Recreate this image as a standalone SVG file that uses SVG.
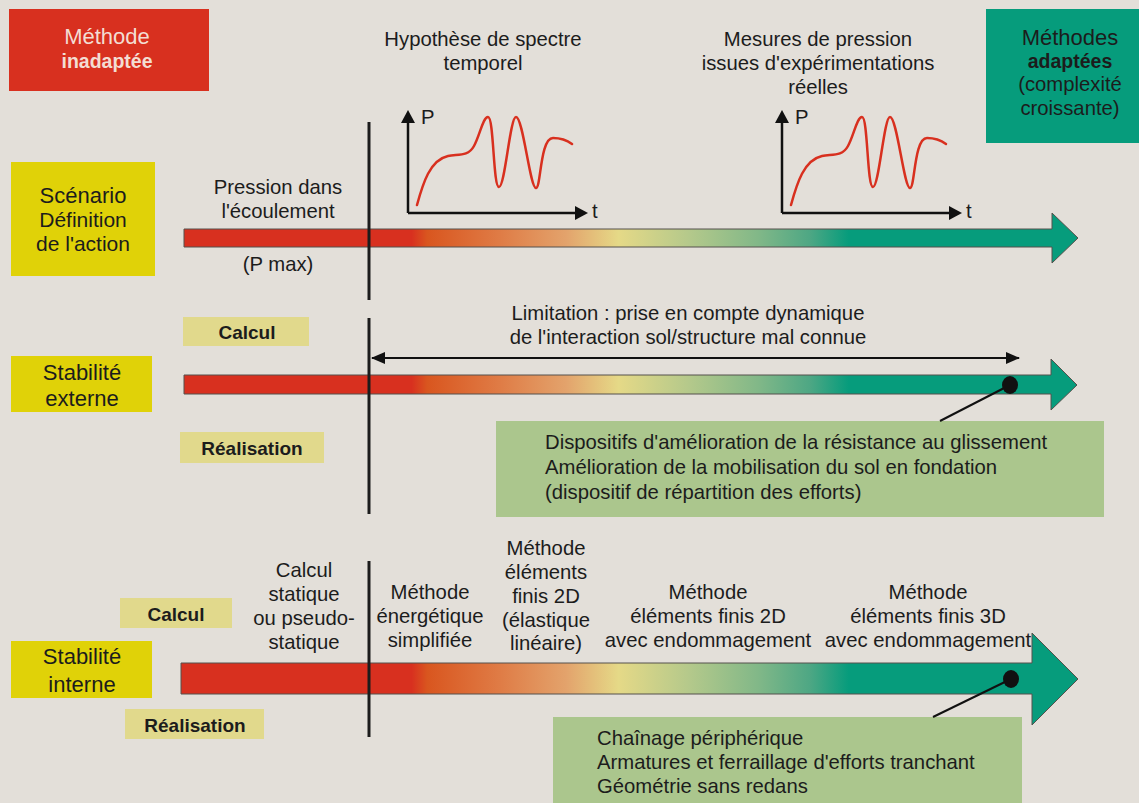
<svg xmlns="http://www.w3.org/2000/svg" width="1139" height="803" viewBox="0 0 1139 803">
<style>
text{font-family:"Liberation Sans",Arial,sans-serif;fill:#1c1c1c;font-size:20.3px;text-anchor:middle}
.b{font-weight:bold}
.t22{font-size:22px}
.t21{font-size:21px}
.lab{font-weight:bold;font-size:19px}
.left{text-anchor:start}
.vl{stroke:#1c1c1c;stroke-width:3;fill:none}
.ax{stroke:#111;stroke-width:2.5;fill:none}
.crv{stroke:#d8301f;stroke-width:2.5;fill:none;stroke-linecap:round}
.arr{fill:url(#grad);stroke:#55514c;stroke-width:1}
.ld{stroke:#111;stroke-width:2}
</style>
<defs>
<linearGradient id="grad" gradientUnits="userSpaceOnUse" x1="184" y1="0" x2="1053" y2="0">
<stop offset="0" stop-color="#d8301f"/>
<stop offset="0.262" stop-color="#d8301f"/>
<stop offset="0.28" stop-color="#d9561f"/>
<stop offset="0.36" stop-color="#df7a44"/>
<stop offset="0.44" stop-color="#e3a36c"/>
<stop offset="0.50" stop-color="#e5d987"/>
<stop offset="0.58" stop-color="#b5c98b"/>
<stop offset="0.66" stop-color="#82b888"/>
<stop offset="0.72" stop-color="#4ea784"/>
<stop offset="0.765" stop-color="#069c7c"/>
<stop offset="1" stop-color="#069c7c"/>
</linearGradient>
<marker id="ah" viewBox="0 0 14 12" refX="13" refY="6" markerWidth="14" markerHeight="12" markerUnits="userSpaceOnUse" orient="auto-start-reverse">
<path d="M0,0 L14,6 L0,12 Z" fill="#111"/>
</marker>
<path id="curve" d="M417,205 C423,183 430,160 448,156 C458,154 468,157 474,146 C480,135 483,117 488,117 C494,117 493,187 499,187 C505,187 510,117 516,117 C523,117 530,188 536,188 C541,188 540,138 553,138 C562,138 568,141 572,144"/>
</defs>
<rect width="1139" height="803" fill="#e3dfd9"/>

<g id="legend-inadaptee">
<rect x="9" y="9" width="200" height="82" fill="#d8301f"/>
<text x="107" y="44" class="t22" style="fill:#f3ddd3">Méthode</text>
<text x="107" y="68" class="b" style="fill:#f3ddd3;font-size:19.5px">inadaptée</text>
</g>
<g id="legend-adaptees">
<rect x="986" y="9" width="153" height="134" fill="#069c7c"/>
<text x="1070" y="45" class="t22">Méthodes</text>
<text x="1070" y="68" class="b" style="font-size:19.5px">adaptées</text>
<text x="1070" y="91">(complexité</text>
<text x="1070" y="115">croissante)</text>
</g>

<g id="scenario">
<rect x="11" y="162" width="144" height="114" fill="#e0d208"/>
<text x="83" y="203" class="t22">Scénario</text>
<text x="83" y="227" class="t21">Définition</text>
<text x="83" y="251" class="t21">de l'action</text>
</g>
<g id="stab-ext">
<rect x="11" y="356" width="141" height="56" fill="#e0d208"/>
<text x="82" y="380" class="t22">Stabilité</text>
<text x="82" y="406" class="t22">externe</text>
</g>
<g id="stab-int">
<rect x="11" y="641" width="141" height="57" fill="#e0d208"/>
<text x="82" y="664" class="t22">Stabilité</text>
<text x="82" y="692" class="t22">interne</text>
</g>
<g id="calcul-ext">
<rect x="183" y="317" width="126" height="29" fill="#e1d98c"/>
<text x="247" y="339" class="lab">Calcul</text>
</g>
<g id="realisation-ext">
<rect x="180" y="432" width="144" height="31" fill="#e1d98c"/>
<text x="252" y="455" class="lab">Réalisation</text>
</g>
<g id="calcul-int">
<rect x="120" y="598" width="112" height="30" fill="#e1d98c"/>
<text x="176" y="621" class="lab">Calcul</text>
</g>
<g id="realisation-int">
<rect x="125" y="709" width="139" height="30" fill="#e1d98c"/>
<text x="195" y="732" class="lab">Réalisation</text>
</g>

<g id="arrow1">
<path class="arr" d="M184,229 H1052 V213 L1078,238 L1052,263 V247 H184 Z"/>
</g>
<g id="arrow2">
<path class="arr" d="M184,375 H1051 V359 L1077,385 L1051,410 V394 H184 Z"/>
</g>
<g id="arrow3">
<path class="arr" d="M181,663 H1032 V633 L1078,679 L1032,725 V694 H181 Z"/>
</g>

<g id="labels-row1">
<text x="278" y="194">Pression dans</text>
<text x="278" y="218">l'écoulement</text>
<text x="278" y="271">(P max)</text>
<text x="483" y="46">Hypothèse de spectre</text>
<text x="483" y="70">temporel</text>
<text x="818" y="46">Mesures de pression</text>
<text x="818" y="70">issues d'expérimentations</text>
<text x="818" y="94">réelles</text>
</g>

<g id="graph1">
<line class="ax" x1="408" y1="213" x2="408" y2="122"/>
<path d="M401,123 L408,110 L415,123 Z" fill="#111"/>
<line class="ax" x1="408" y1="213" x2="576" y2="213"/>
<path d="M575,206 L588,213 L575,220 Z" fill="#111"/>
<text x="421" y="124" class="left">P</text>
<text x="592" y="218" class="left">t</text>
<use href="#curve" class="crv"/>
</g>
<g id="graph2" transform="translate(374,0)">
<line class="ax" x1="408" y1="213" x2="408" y2="122"/>
<path d="M401,123 L408,110 L415,123 Z" fill="#111"/>
<line class="ax" x1="408" y1="213" x2="576" y2="213"/>
<path d="M575,206 L588,213 L575,220 Z" fill="#111"/>
<text x="421" y="124" class="left">P</text>
<text x="592" y="218" class="left">t</text>
<use href="#curve" class="crv"/>
</g>

<g id="labels-row2">
<text x="688" y="320">Limitation : prise en compte dynamique</text>
<text x="688" y="344">de l'interaction sol/structure mal connue</text>
</g>
<g id="box-ext">
<rect x="496" y="421" width="608" height="96" fill="#abc68d"/>
<text x="545" y="449" class="left">Dispositifs d'amélioration de la résistance au glissement</text>
<text x="545" y="474" class="left">Amélioration de la mobilisation du sol en fondation</text>
<text x="545" y="499" class="left">(dispositif de répartition des efforts)</text>
</g>

<g id="labels-row3">
<text x="304" y="577">Calcul</text>
<text x="304" y="601">statique</text>
<text x="304" y="625">ou pseudo-</text>
<text x="304" y="649">statique</text>
<text x="430" y="599">Méthode</text>
<text x="430" y="623">énergétique</text>
<text x="430" y="647">simplifiée</text>
<text x="546" y="555">Méthode</text>
<text x="546" y="579">éléments</text>
<text x="546" y="603">finis 2D</text>
<text x="546" y="627">(élastique</text>
<text x="546" y="650">linéaire)</text>
<text x="708" y="599">Méthode</text>
<text x="708" y="623">éléments finis 2D</text>
<text x="708" y="647">avec endommagement</text>
<text x="928" y="599">Méthode</text>
<text x="928" y="623">éléments finis 3D</text>
<text x="928" y="647">avec endommagement</text>
</g>
<g id="box-int">
<rect x="553" y="717" width="469" height="90" fill="#abc68d"/>
<text x="597" y="745" class="left">Chaînage périphérique</text>
<text x="597" y="769" class="left">Armatures et ferraillage d'efforts tranchant</text>
<text x="597" y="793" class="left">Géométrie sans redans</text>
</g>

<g id="connectors">
<line class="vl" x1="369" y1="122" x2="369" y2="300"/>
<line class="vl" x1="369" y1="318" x2="369" y2="514"/>
<line class="vl" x1="369" y1="561" x2="369" y2="737"/>
<line x1="372" y1="358" x2="1019" y2="358" stroke="#111" stroke-width="2" marker-start="url(#ah)" marker-end="url(#ah)"/>
<line class="ld" x1="1010" y1="385" x2="940" y2="421"/>
<ellipse cx="1010" cy="385" rx="8" ry="9" fill="#111"/>
<line class="ld" x1="1011" y1="679" x2="933" y2="717"/>
<ellipse cx="1011" cy="679" rx="8" ry="9" fill="#111"/>
</g>
</svg>
